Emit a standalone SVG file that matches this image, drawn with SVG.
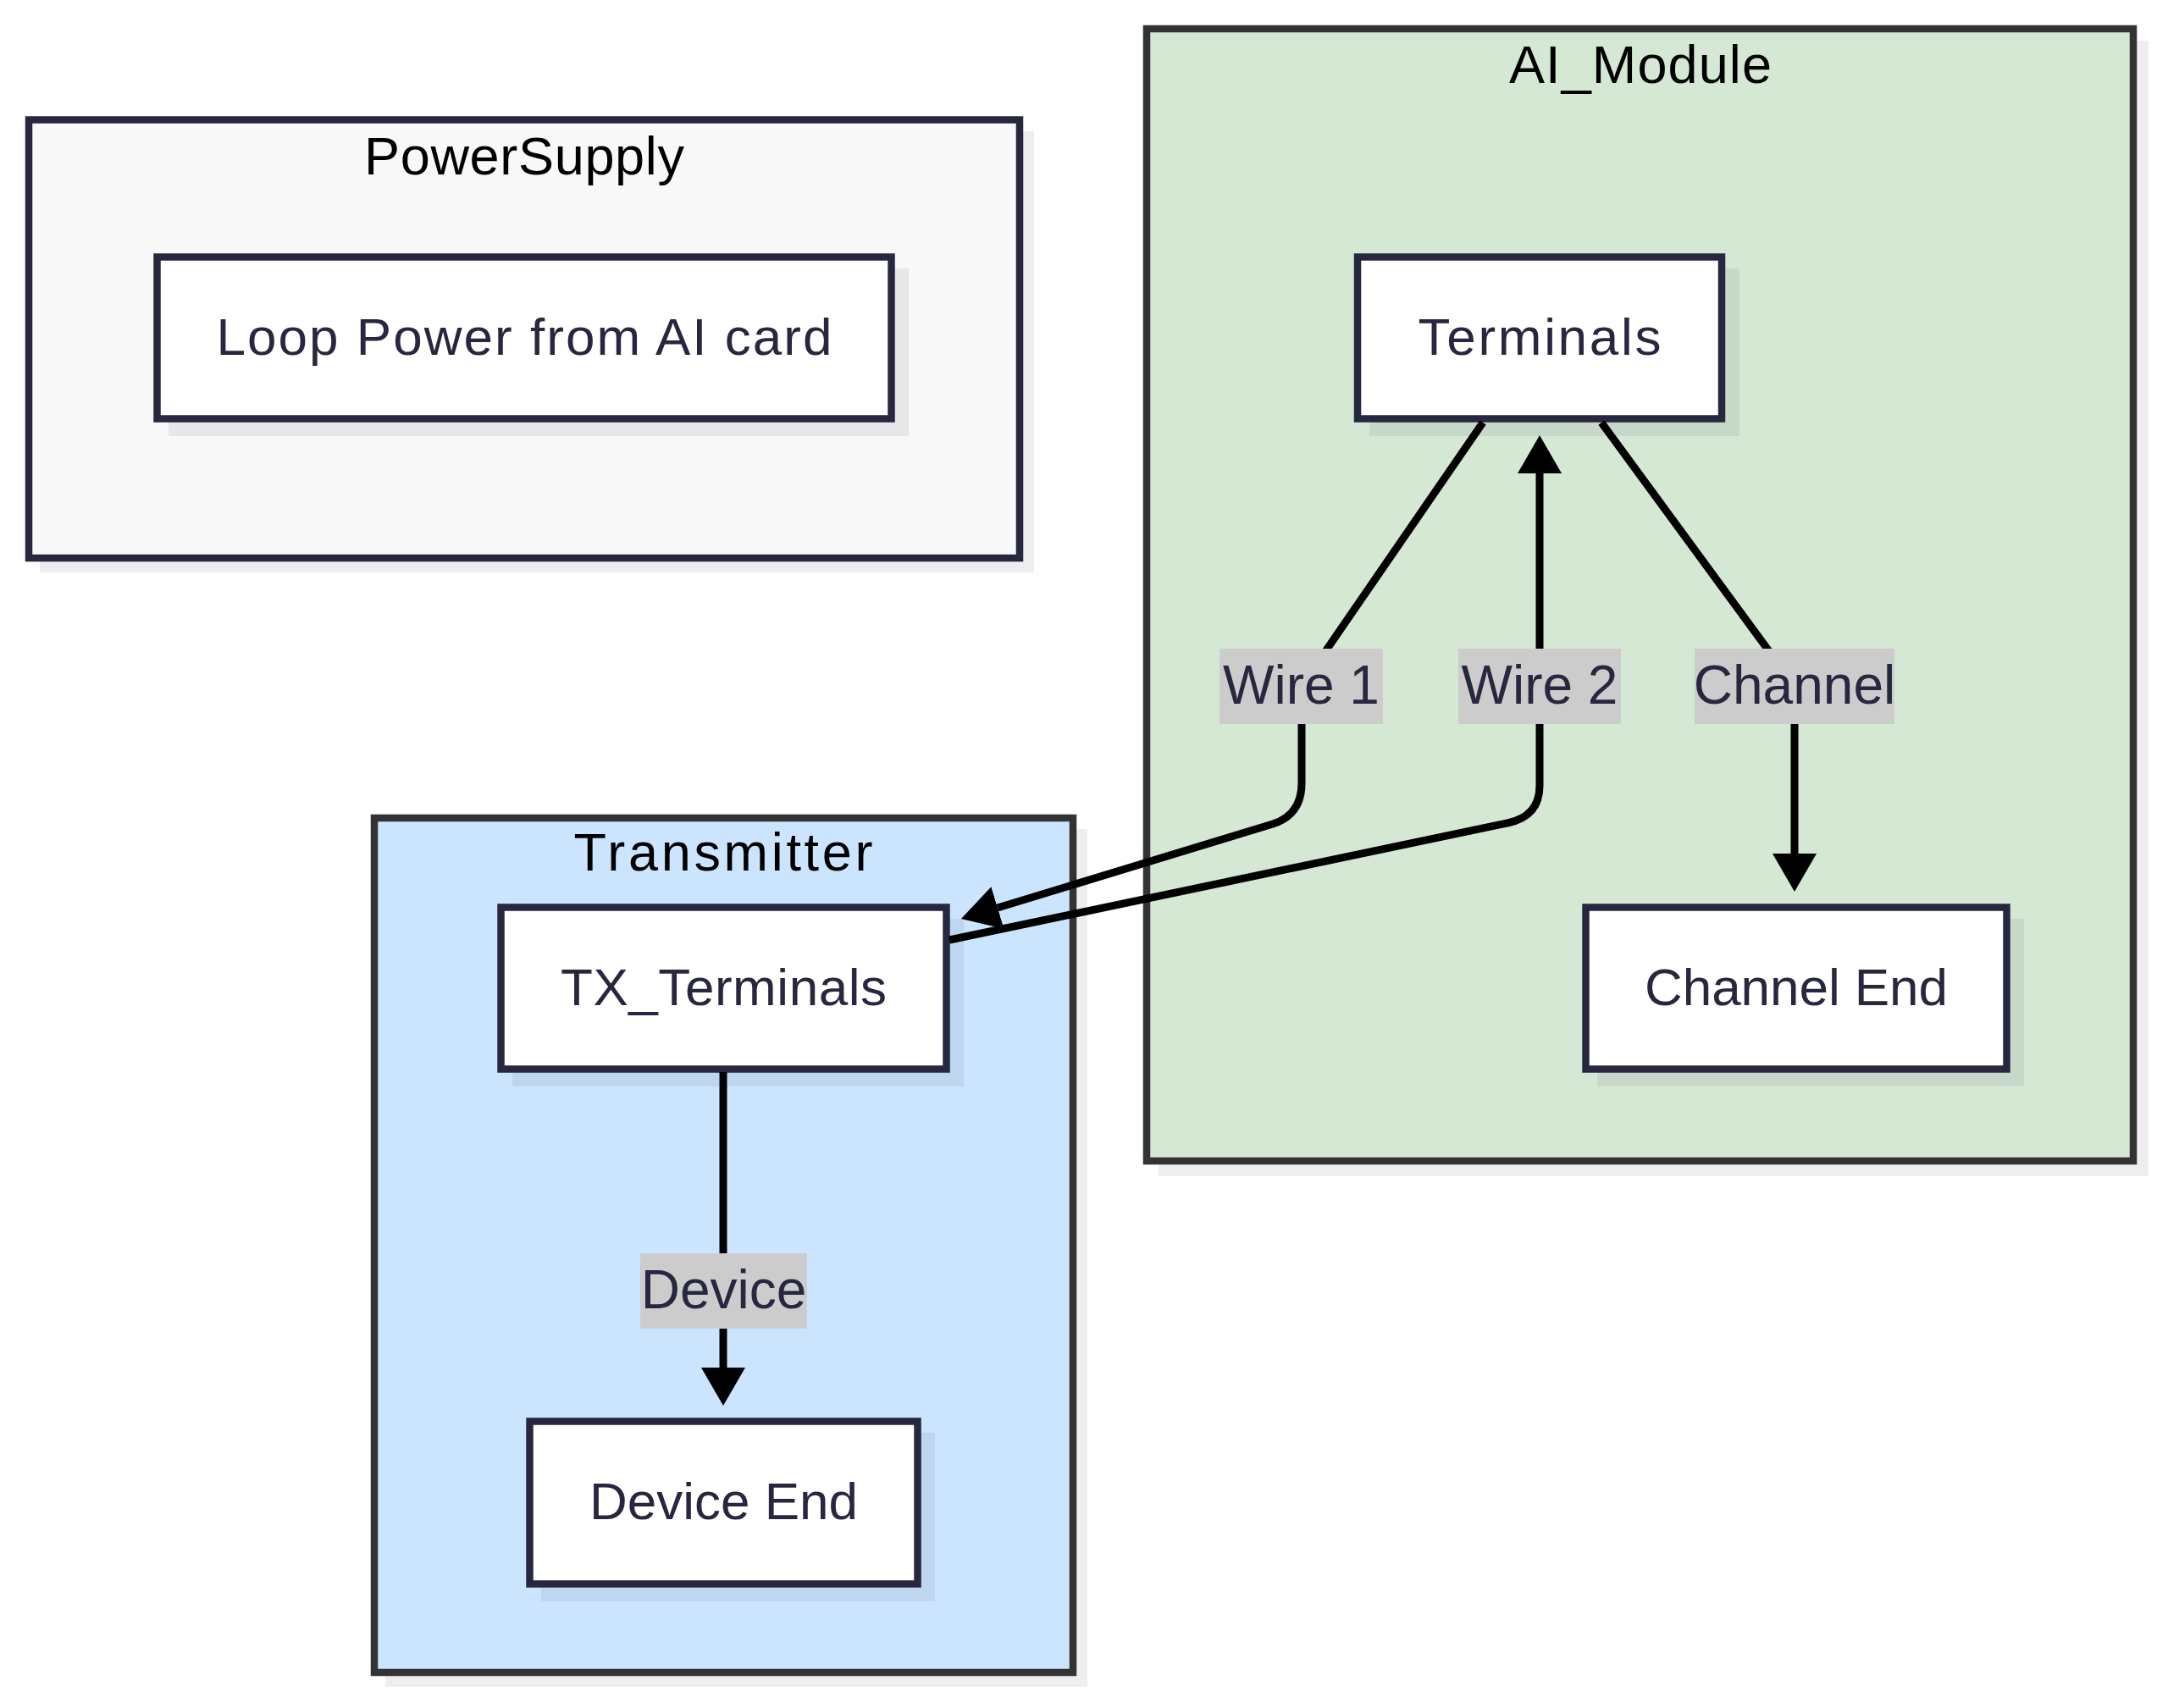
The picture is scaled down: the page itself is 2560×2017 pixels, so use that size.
<svg xmlns="http://www.w3.org/2000/svg" width="2560" height="2017" viewBox="0 0 2560 2017">
<style>
  .shadow { fill: #1f1f3a; fill-opacity: 0.075; }
  .node rect.box { fill: #ffffff; stroke: #27273f; stroke-width: 8.5; }
  .node text { font-family: "Liberation Sans", Arial, sans-serif; font-size: 62px; fill: #27273f; text-anchor: middle; }
  .cluster rect.frame { stroke-width: 8.5; }
  .cluster text { font-family: "Liberation Sans", Arial, sans-serif; font-size: 63px; fill: #000000; text-anchor: middle; }
  .edge { fill: none; stroke: #000000; stroke-width: 9; }
  .elabel rect { fill: #cccccc; }
  .elabel text { font-family: "Liberation Sans", Arial, sans-serif; font-size: 64px; fill: #27273f; text-anchor: middle; }
</style>
<defs>
  <marker id="arrow" markerUnits="userSpaceOnUse" viewBox="0 0 45 52" markerWidth="45" markerHeight="52" refX="0" refY="26" orient="auto">
    <path d="M0,0 L45,26 L0,52 z" fill="#000000"/>
  </marker>
</defs>
<rect x="0" y="0" width="2560" height="2017" fill="#ffffff"/>

<g id="cluster-PowerSupply" class="cluster">
  <rect class="shadow" x="47" y="155" width="1174" height="521"/>
  <rect class="frame" x="34" y="141.5" width="1170" height="517.5" fill="#f8f8f8" stroke="#27273f"/>
  <text x="619" y="206" textLength="378">PowerSupply</text>
</g>
<g id="cluster-AI_Module" class="cluster">
  <rect class="shadow" x="1368" y="48" width="1169" height="1341"/>
  <rect class="frame" x="1354" y="34" width="1165" height="1337" fill="#d5e8d4" stroke="#333333"/>
  <text x="1937" y="98" textLength="310">AI_Module</text>
</g>
<g id="cluster-Transmitter" class="cluster">
  <rect class="shadow" x="455" y="979" width="829" height="1013"/>
  <rect class="frame" x="442" y="966" width="825" height="1009" fill="#cce5ff" stroke="#333333"/>
  <text x="854" y="1028" textLength="353">Transmitter</text>
</g>

<g id="node-LoopPower" class="node">
  <rect class="shadow" x="199" y="317" width="874" height="198"/>
  <rect class="box" x="185.5" y="303.5" width="867" height="191"/>
  <text x="619" y="419" textLength="727">Loop Power from AI card</text>
</g>
<g id="node-Terminals" class="node">
  <rect class="shadow" x="1617" y="317" width="437" height="198"/>
  <rect class="box" x="1603" y="303.5" width="430" height="191"/>
  <text x="1818" y="419" textLength="287">Terminals</text>
</g>
<g id="node-ChannelEnd" class="node">
  <rect class="shadow" x="1886" y="1085" width="504" height="198"/>
  <rect class="box" x="1872.5" y="1071.5" width="497" height="191"/>
  <text x="2121" y="1187" textLength="358">Channel End</text>
</g>
<g id="node-TX_Terminals" class="node">
  <rect class="shadow" x="605" y="1085" width="533" height="198"/>
  <rect class="box" x="591.5" y="1071.5" width="526" height="191"/>
  <text x="854.5" y="1187" textLength="385">TX_Terminals</text>
</g>
<g id="node-DeviceEnd" class="node">
  <rect class="shadow" x="639" y="1692" width="465" height="199"/>
  <rect class="box" x="625.5" y="1678.5" width="458" height="192"/>
  <text x="854.5" y="1794" textLength="317">Device End</text>
</g>

<g id="connectors">
  <path class="edge" d="M1751,499 L1537,810 L1537,925 Q1537,962 1503,973 L1178,1072" marker-end="url(#arrow)"/>
  <path class="edge" d="M1121,1110 L1780,972 Q1818,964 1818,928 L1818,559" marker-end="url(#arrow)"/>
  <path class="edge" d="M1891,499 L2119,810 L2119,1008" marker-end="url(#arrow)"/>
  <path class="edge" d="M854,1266 L854,1615" marker-end="url(#arrow)"/>
</g>

<g id="edge-labels">
  <g class="elabel">
    <rect x="1440" y="766" width="193" height="89"/>
    <text x="1536.5" y="831">Wire 1</text>
  </g>
  <g class="elabel">
    <rect x="1722" y="766" width="192" height="89"/>
    <text x="1818" y="831">Wire 2</text>
  </g>
  <g class="elabel">
    <rect x="2001" y="766" width="236" height="89"/>
    <text x="2119" y="831">Channel</text>
  </g>
  <g class="elabel">
    <rect x="756" y="1480" width="197" height="89"/>
    <text x="854.5" y="1545">Device</text>
  </g>
</g>
</svg>
